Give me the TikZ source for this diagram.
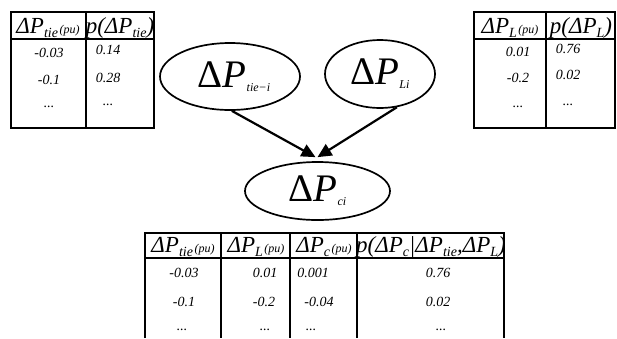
\documentclass[tikz,border=0pt]{standalone}
\usepackage{fontspec}
\setmainfont{Liberation Serif}
\usetikzlibrary{shapes.geometric,arrows.meta}
\newcommand{\hDP}{{\fontsize{23}{23}\selectfont\itshape ΔP}}
\newcommand{\hsub}[1]{\raisebox{-4pt}{\fontsize{14}{14}\selectfont\itshape #1}}
\newcommand{\hpu}{\hspace{1.5pt}{\fontsize{12}{12}\selectfont\itshape (pu)}}
\newcommand{\hbig}[1]{{\fontsize{23}{23}\selectfont\itshape #1}}
\newcommand{\eDP}{{\fontsize{39}{39}\selectfont Δ\textit{P}}}
\newcommand{\esub}[1]{\raisebox{-4pt}{\fontsize{12}{12}\selectfont\itshape #1}}
\begin{document}
\begin{tikzpicture}[x=1pt,y=-1pt,
  tbl/.style={line width=1.7pt},
  val/.style={font=\fontsize{14}{14}\selectfont\itshape, inner sep=0pt},
  hdr/.style={inner sep=0pt, anchor=base},
  var/.style={ellipse, draw, line width=1.7pt, inner sep=0pt},
  arr/.style={line width=2.2pt, -{Triangle[length=14pt,width=13pt]}}]
\useasboundingbox (0,0) rectangle (617,338);
% top-left table
\draw[tbl] (11,12) rectangle (154,128);
\draw[tbl] (86,12) -- (86,128);
\draw[tbl] (11,39) -- (154,39);
\node[hdr] (h1a) at (48,33) {\hDP\hsub{tie}\hpu};
\node[hdr] (h1b) at (120,33) {\hbig{p(}\hDP\hsub{tie}\hbig{)}};
\node[val] (v1a) at (49,53) {-0.03};
\node[val] (v1b) at (49,80) {-0.1};
\node[val] (v1c) at (49,107) {...};
\node[val] (v1d) at (108,50) {0.14};
\node[val] (v1e) at (108,78) {0.28};
\node[val] (v1f) at (108,105) {...};
% top-right table
\draw[tbl] (474,12) rectangle (615,128);
\draw[tbl] (546,12) -- (546,128);
\draw[tbl] (474,39) -- (615,39);
\node[hdr] (h2a) at (510,33) {\hDP\hsub{L}\hpu};
\node[hdr] (h2b) at (581,33) {\hbig{p(}\hDP\hsub{L}\hbig{)}};
\node[val] (v2a) at (518,52) {0.01};
\node[val] (v2b) at (518,78) {-0.2};
\node[val] (v2c) at (518,107) {...};
\node[val] (v2d) at (568,49) {0.76};
\node[val] (v2e) at (568,75) {0.02};
\node[val] (v2f) at (568,105) {...};
% ellipses
\node[var, minimum width=140pt, minimum height=67pt] (tie) at (230,76.5) {\hspace{8pt}\eDP\esub{tie−i}};
\node[var, minimum width=110pt, minimum height=68pt] (li) at (380,74) {\eDP\esub{Li}};
\node[var, minimum width=145pt, minimum height=58pt] (ci) at (317.5,191) {\eDP\esub{ci}};
\coordinate (m) at ([yshift=4pt]ci.north);
\draw[arr] (tie.-87) -- ([xshift=-2pt]m);
\draw[arr] (li.-63) -- (m);
% bottom table
\draw[tbl] (145,338) -- (145,233) -- (504,233) -- (504,338);
\draw[tbl] (145,258) -- (504,258);
\draw[tbl] (221,233) -- (221,338);
\draw[tbl] (290,233) -- (290,338);
\draw[tbl] (357,233) -- (357,338);
\node[hdr] (h3a) at (183,252) {\hDP\hsub{tie}\hpu};
\node[hdr] (h3b) at (256,252) {\hDP\hsub{L}\hpu};
\node[hdr] (h3c) at (324,252) {\hDP\hsub{c}\hpu};
\node[hdr] (h3d) at (431,252) {\hbig{p(}\hDP\hsub{c}\hbig{|}\hDP\hsub{tie}\hbig{,}\hDP\hsub{L}\hbig{)}};
\node[val] (v3a) at (184,273) {-0.03};
\node[val] (v3b) at (184,302) {-0.1};
\node[val] (v3c) at (182,330) {...};
\node[val] (v3d) at (265,273) {0.01};
\node[val] (v3e) at (264,302) {-0.2};
\node[val] (v3f) at (265,330) {...};
\node[val] (v3g) at (313,273) {0.001};
\node[val] (v3h) at (319,302) {-0.04};
\node[val] (v3i) at (311,330) {...};
\node[val] (v3j) at (438,273) {0.76};
\node[val] (v3k) at (438,302) {0.02};
\node[val] (v3l) at (441,330) {...};
\end{tikzpicture}
\end{document}
